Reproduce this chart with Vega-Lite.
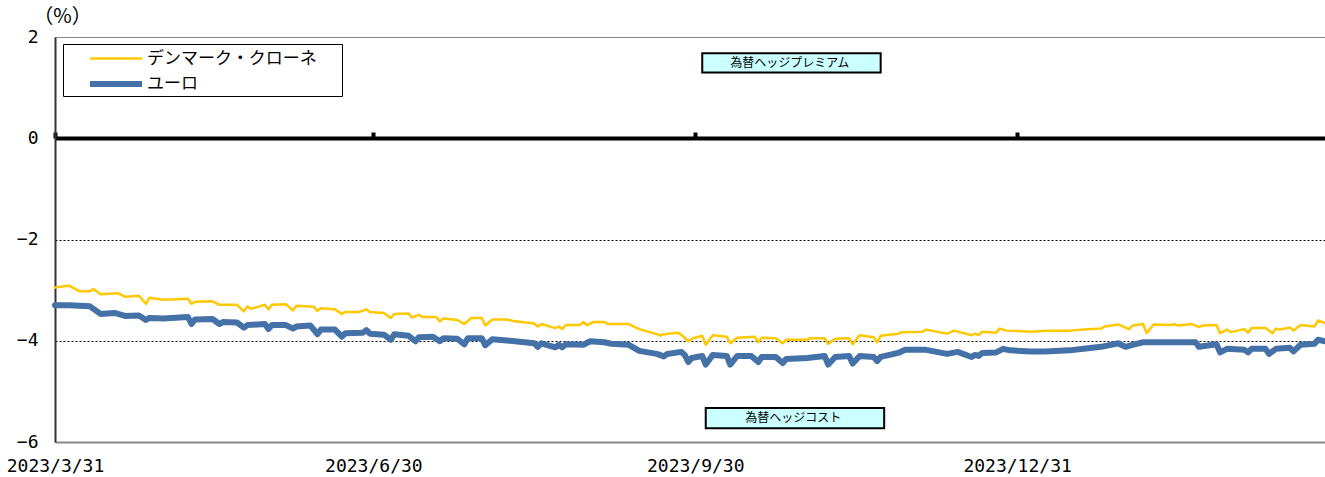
{
  "$schema": "https://vega.github.io/schema/vega-lite/v6.json",
  "width": 1270,
  "height": 405,
  "autosize": {"type": "none"},
  "padding": {"left": 55, "top": 37, "right": 0, "bottom": 35},
  "background": "white",
  "config": {
    "font": "Noto Sans CJK JP",
    "view": {"stroke": "#888888", "strokeWidth": 1}
  },
  "datasets": {
    "notes": [
      {"label": "為替ヘッジプレミアム", "start": "2023-10-02", "end": "2023-11-22", "mid": "2023-10-27", "top": 1.68, "bottom": 1.30, "center": 1.49},
      {"label": "為替ヘッジコスト", "start": "2023-10-03", "end": "2023-11-23", "mid": "2023-10-28", "top": -5.33, "bottom": -5.73, "center": -5.53}
    ],
    "series": [
      {"date": "2023-03-31", "currency": "デンマーク・クローネ", "value": -2.95},
      {"date": "2023-04-04", "currency": "デンマーク・クローネ", "value": -2.91},
      {"date": "2023-04-07", "currency": "デンマーク・クローネ", "value": -3.02},
      {"date": "2023-04-10", "currency": "デンマーク・クローネ", "value": -3.02},
      {"date": "2023-04-11", "currency": "デンマーク・クローネ", "value": -2.98},
      {"date": "2023-04-13", "currency": "デンマーク・クローネ", "value": -3.08},
      {"date": "2023-04-18", "currency": "デンマーク・クローネ", "value": -3.06},
      {"date": "2023-04-20", "currency": "デンマーク・クローネ", "value": -3.13},
      {"date": "2023-04-24", "currency": "デンマーク・クローネ", "value": -3.11},
      {"date": "2023-04-26", "currency": "デンマーク・クローネ", "value": -3.27},
      {"date": "2023-04-27", "currency": "デンマーク・クローネ", "value": -3.15},
      {"date": "2023-05-01", "currency": "デンマーク・クローネ", "value": -3.19},
      {"date": "2023-05-08", "currency": "デンマーク・クローネ", "value": -3.17},
      {"date": "2023-05-09", "currency": "デンマーク・クローネ", "value": -3.27},
      {"date": "2023-05-10", "currency": "デンマーク・クローネ", "value": -3.23},
      {"date": "2023-05-15", "currency": "デンマーク・クローネ", "value": -3.22},
      {"date": "2023-05-17", "currency": "デンマーク・クローネ", "value": -3.29},
      {"date": "2023-05-22", "currency": "デンマーク・クローネ", "value": -3.29},
      {"date": "2023-05-24", "currency": "デンマーク・クローネ", "value": -3.42},
      {"date": "2023-05-25", "currency": "デンマーク・クローネ", "value": -3.32},
      {"date": "2023-05-26", "currency": "デンマーク・クローネ", "value": -3.37},
      {"date": "2023-05-30", "currency": "デンマーク・クローネ", "value": -3.29},
      {"date": "2023-05-31", "currency": "デンマーク・クローネ", "value": -3.38},
      {"date": "2023-06-01", "currency": "デンマーク・クローネ", "value": -3.29},
      {"date": "2023-06-05", "currency": "デンマーク・クローネ", "value": -3.28},
      {"date": "2023-06-07", "currency": "デンマーク・クローネ", "value": -3.40},
      {"date": "2023-06-08", "currency": "デンマーク・クローネ", "value": -3.31},
      {"date": "2023-06-13", "currency": "デンマーク・クローネ", "value": -3.33},
      {"date": "2023-06-14", "currency": "デンマーク・クローネ", "value": -3.41},
      {"date": "2023-06-15", "currency": "デンマーク・クローネ", "value": -3.36},
      {"date": "2023-06-19", "currency": "デンマーク・クローネ", "value": -3.38},
      {"date": "2023-06-21", "currency": "デンマーク・クローネ", "value": -3.47},
      {"date": "2023-06-22", "currency": "デンマーク・クローネ", "value": -3.43},
      {"date": "2023-06-26", "currency": "デンマーク・クローネ", "value": -3.43},
      {"date": "2023-06-28", "currency": "デンマーク・クローネ", "value": -3.38},
      {"date": "2023-06-29", "currency": "デンマーク・クローネ", "value": -3.43},
      {"date": "2023-07-03", "currency": "デンマーク・クローネ", "value": -3.45},
      {"date": "2023-07-05", "currency": "デンマーク・クローネ", "value": -3.55},
      {"date": "2023-07-06", "currency": "デンマーク・クローネ", "value": -3.47},
      {"date": "2023-07-10", "currency": "デンマーク・クローネ", "value": -3.46},
      {"date": "2023-07-11", "currency": "デンマーク・クローネ", "value": -3.54},
      {"date": "2023-07-13", "currency": "デンマーク・クローネ", "value": -3.49},
      {"date": "2023-07-14", "currency": "デンマーク・クローネ", "value": -3.53},
      {"date": "2023-07-18", "currency": "デンマーク・クローネ", "value": -3.53},
      {"date": "2023-07-19", "currency": "デンマーク・クローネ", "value": -3.62},
      {"date": "2023-07-20", "currency": "デンマーク・クローネ", "value": -3.56},
      {"date": "2023-07-24", "currency": "デンマーク・クローネ", "value": -3.59},
      {"date": "2023-07-26", "currency": "デンマーク・クローネ", "value": -3.67},
      {"date": "2023-07-28", "currency": "デンマーク・クローネ", "value": -3.55},
      {"date": "2023-07-31", "currency": "デンマーク・クローネ", "value": -3.55},
      {"date": "2023-08-01", "currency": "デンマーク・クローネ", "value": -3.70},
      {"date": "2023-08-03", "currency": "デンマーク・クローネ", "value": -3.58},
      {"date": "2023-08-07", "currency": "デンマーク・クローネ", "value": -3.58},
      {"date": "2023-08-09", "currency": "デンマーク・クローネ", "value": -3.61},
      {"date": "2023-08-15", "currency": "デンマーク・クローネ", "value": -3.66},
      {"date": "2023-08-16", "currency": "デンマーク・クローネ", "value": -3.72},
      {"date": "2023-08-17", "currency": "デンマーク・クローネ", "value": -3.67},
      {"date": "2023-08-21", "currency": "デンマーク・クローネ", "value": -3.75},
      {"date": "2023-08-22", "currency": "デンマーク・クローネ", "value": -3.72},
      {"date": "2023-08-23", "currency": "デンマーク・クローネ", "value": -3.77},
      {"date": "2023-08-24", "currency": "デンマーク・クローネ", "value": -3.69},
      {"date": "2023-08-28", "currency": "デンマーク・クローネ", "value": -3.69},
      {"date": "2023-08-29", "currency": "デンマーク・クローネ", "value": -3.63},
      {"date": "2023-08-30", "currency": "デンマーク・クローネ", "value": -3.69},
      {"date": "2023-09-01", "currency": "デンマーク・クローネ", "value": -3.63},
      {"date": "2023-09-04", "currency": "デンマーク・クローネ", "value": -3.63},
      {"date": "2023-09-05", "currency": "デンマーク・クローネ", "value": -3.67},
      {"date": "2023-09-11", "currency": "デンマーク・クローネ", "value": -3.67},
      {"date": "2023-09-14", "currency": "デンマーク・クローネ", "value": -3.77},
      {"date": "2023-09-19", "currency": "デンマーク・クローネ", "value": -3.87},
      {"date": "2023-09-20", "currency": "デンマーク・クローネ", "value": -3.90},
      {"date": "2023-09-21", "currency": "デンマーク・クローネ", "value": -3.87},
      {"date": "2023-09-25", "currency": "デンマーク・クローネ", "value": -3.84},
      {"date": "2023-09-26", "currency": "デンマーク・クローネ", "value": -3.88},
      {"date": "2023-09-28", "currency": "デンマーク・クローネ", "value": -4.01},
      {"date": "2023-09-29", "currency": "デンマーク・クローネ", "value": -3.96},
      {"date": "2023-10-02", "currency": "デンマーク・クローネ", "value": -3.90},
      {"date": "2023-10-03", "currency": "デンマーク・クローネ", "value": -4.08},
      {"date": "2023-10-05", "currency": "デンマーク・クローネ", "value": -3.89},
      {"date": "2023-10-09", "currency": "デンマーク・クローネ", "value": -3.92},
      {"date": "2023-10-10", "currency": "デンマーク・クローネ", "value": -4.05},
      {"date": "2023-10-12", "currency": "デンマーク・クローネ", "value": -3.94},
      {"date": "2023-10-17", "currency": "デンマーク・クローネ", "value": -3.92},
      {"date": "2023-10-18", "currency": "デンマーク・クローネ", "value": -4.03},
      {"date": "2023-10-19", "currency": "デンマーク・クローネ", "value": -3.94},
      {"date": "2023-10-23", "currency": "デンマーク・クローネ", "value": -3.95},
      {"date": "2023-10-25", "currency": "デンマーク・クローネ", "value": -4.05},
      {"date": "2023-10-26", "currency": "デンマーク・クローネ", "value": -3.98},
      {"date": "2023-11-01", "currency": "デンマーク・クローネ", "value": -3.98},
      {"date": "2023-11-02", "currency": "デンマーク・クローネ", "value": -3.95},
      {"date": "2023-11-06", "currency": "デンマーク・クローネ", "value": -3.95},
      {"date": "2023-11-07", "currency": "デンマーク・クローネ", "value": -4.06},
      {"date": "2023-11-09", "currency": "デンマーク・クローネ", "value": -3.96},
      {"date": "2023-11-13", "currency": "デンマーク・クローネ", "value": -3.95},
      {"date": "2023-11-14", "currency": "デンマーク・クローネ", "value": -4.07},
      {"date": "2023-11-16", "currency": "デンマーク・クローネ", "value": -3.89},
      {"date": "2023-11-20", "currency": "デンマーク・クローネ", "value": -3.93},
      {"date": "2023-11-21", "currency": "デンマーク・クローネ", "value": -4.03},
      {"date": "2023-11-22", "currency": "デンマーク・クローネ", "value": -3.90},
      {"date": "2023-11-27", "currency": "デンマーク・クローネ", "value": -3.86},
      {"date": "2023-11-28", "currency": "デンマーク・クローネ", "value": -3.83},
      {"date": "2023-12-04", "currency": "デンマーク・クローネ", "value": -3.82},
      {"date": "2023-12-05", "currency": "デンマーク・クローネ", "value": -3.78},
      {"date": "2023-12-11", "currency": "デンマーク・クローネ", "value": -3.86},
      {"date": "2023-12-13", "currency": "デンマーク・クローネ", "value": -3.80},
      {"date": "2023-12-18", "currency": "デンマーク・クローネ", "value": -3.89},
      {"date": "2023-12-19", "currency": "デンマーク・クローネ", "value": -3.86},
      {"date": "2023-12-20", "currency": "デンマーク・クローネ", "value": -3.89},
      {"date": "2023-12-21", "currency": "デンマーク・クローネ", "value": -3.82},
      {"date": "2023-12-25", "currency": "デンマーク・クローネ", "value": -3.84},
      {"date": "2023-12-26", "currency": "デンマーク・クローネ", "value": -3.76},
      {"date": "2023-12-28", "currency": "デンマーク・クローネ", "value": -3.80},
      {"date": "2024-01-04", "currency": "デンマーク・クローネ", "value": -3.82},
      {"date": "2024-01-09", "currency": "デンマーク・クローネ", "value": -3.80},
      {"date": "2024-01-15", "currency": "デンマーク・クローネ", "value": -3.80},
      {"date": "2024-01-19", "currency": "デンマーク・クローネ", "value": -3.78},
      {"date": "2024-01-24", "currency": "デンマーク・クローネ", "value": -3.76},
      {"date": "2024-01-25", "currency": "デンマーク・クローネ", "value": -3.72},
      {"date": "2024-01-29", "currency": "デンマーク・クローネ", "value": -3.68},
      {"date": "2024-02-01", "currency": "デンマーク・クローネ", "value": -3.77},
      {"date": "2024-02-02", "currency": "デンマーク・クローネ", "value": -3.70},
      {"date": "2024-02-05", "currency": "デンマーク・クローネ", "value": -3.67},
      {"date": "2024-02-06", "currency": "デンマーク・クローネ", "value": -3.85},
      {"date": "2024-02-08", "currency": "デンマーク・クローネ", "value": -3.68},
      {"date": "2024-02-13", "currency": "デンマーク・クローネ", "value": -3.69},
      {"date": "2024-02-14", "currency": "デンマーク・クローネ", "value": -3.67},
      {"date": "2024-02-15", "currency": "デンマーク・クローネ", "value": -3.70},
      {"date": "2024-02-19", "currency": "デンマーク・クローネ", "value": -3.67},
      {"date": "2024-02-21", "currency": "デンマーク・クローネ", "value": -3.73},
      {"date": "2024-02-22", "currency": "デンマーク・クローネ", "value": -3.70},
      {"date": "2024-02-26", "currency": "デンマーク・クローネ", "value": -3.69},
      {"date": "2024-02-27", "currency": "デンマーク・クローネ", "value": -3.85},
      {"date": "2024-02-29", "currency": "デンマーク・クローネ", "value": -3.78},
      {"date": "2024-03-01", "currency": "デンマーク・クローネ", "value": -3.83},
      {"date": "2024-03-05", "currency": "デンマーク・クローネ", "value": -3.77},
      {"date": "2024-03-06", "currency": "デンマーク・クローネ", "value": -3.84},
      {"date": "2024-03-07", "currency": "デンマーク・クローネ", "value": -3.75},
      {"date": "2024-03-11", "currency": "デンマーク・クローネ", "value": -3.75},
      {"date": "2024-03-13", "currency": "デンマーク・クローネ", "value": -3.85},
      {"date": "2024-03-14", "currency": "デンマーク・クローネ", "value": -3.76},
      {"date": "2024-03-15", "currency": "デンマーク・クローネ", "value": -3.78},
      {"date": "2024-03-18", "currency": "デンマーク・クローネ", "value": -3.74},
      {"date": "2024-03-19", "currency": "デンマーク・クローネ", "value": -3.80},
      {"date": "2024-03-21", "currency": "デンマーク・クローネ", "value": -3.69},
      {"date": "2024-03-25", "currency": "デンマーク・クローネ", "value": -3.72},
      {"date": "2024-03-26", "currency": "デンマーク・クローネ", "value": -3.60},
      {"date": "2024-03-28", "currency": "デンマーク・クローネ", "value": -3.65},
      {"date": "2023-03-31", "currency": "ユーロ", "value": -3.30},
      {"date": "2023-04-04", "currency": "ユーロ", "value": -3.30},
      {"date": "2023-04-10", "currency": "ユーロ", "value": -3.32},
      {"date": "2023-04-13", "currency": "ユーロ", "value": -3.47},
      {"date": "2023-04-17", "currency": "ユーロ", "value": -3.45},
      {"date": "2023-04-20", "currency": "ユーロ", "value": -3.51},
      {"date": "2023-04-24", "currency": "ユーロ", "value": -3.50},
      {"date": "2023-04-26", "currency": "ユーロ", "value": -3.59},
      {"date": "2023-04-27", "currency": "ユーロ", "value": -3.55},
      {"date": "2023-05-01", "currency": "ユーロ", "value": -3.56},
      {"date": "2023-05-08", "currency": "ユーロ", "value": -3.53},
      {"date": "2023-05-09", "currency": "ユーロ", "value": -3.67},
      {"date": "2023-05-10", "currency": "ユーロ", "value": -3.58},
      {"date": "2023-05-15", "currency": "ユーロ", "value": -3.57},
      {"date": "2023-05-17", "currency": "ユーロ", "value": -3.67},
      {"date": "2023-05-18", "currency": "ユーロ", "value": -3.63},
      {"date": "2023-05-22", "currency": "ユーロ", "value": -3.64},
      {"date": "2023-05-24", "currency": "ユーロ", "value": -3.74},
      {"date": "2023-05-25", "currency": "ユーロ", "value": -3.69},
      {"date": "2023-05-30", "currency": "ユーロ", "value": -3.67},
      {"date": "2023-05-31", "currency": "ユーロ", "value": -3.77},
      {"date": "2023-06-01", "currency": "ユーロ", "value": -3.69},
      {"date": "2023-06-05", "currency": "ユーロ", "value": -3.69},
      {"date": "2023-06-07", "currency": "ユーロ", "value": -3.76},
      {"date": "2023-06-08", "currency": "ユーロ", "value": -3.72},
      {"date": "2023-06-12", "currency": "ユーロ", "value": -3.70},
      {"date": "2023-06-14", "currency": "ユーロ", "value": -3.87},
      {"date": "2023-06-15", "currency": "ユーロ", "value": -3.78},
      {"date": "2023-06-19", "currency": "ユーロ", "value": -3.78},
      {"date": "2023-06-21", "currency": "ユーロ", "value": -3.92},
      {"date": "2023-06-22", "currency": "ユーロ", "value": -3.85},
      {"date": "2023-06-27", "currency": "ユーロ", "value": -3.84},
      {"date": "2023-06-28", "currency": "ユーロ", "value": -3.79},
      {"date": "2023-06-29", "currency": "ユーロ", "value": -3.86},
      {"date": "2023-07-03", "currency": "ユーロ", "value": -3.88},
      {"date": "2023-07-05", "currency": "ユーロ", "value": -3.98},
      {"date": "2023-07-06", "currency": "ユーロ", "value": -3.87},
      {"date": "2023-07-10", "currency": "ユーロ", "value": -3.90},
      {"date": "2023-07-12", "currency": "ユーロ", "value": -4.01},
      {"date": "2023-07-13", "currency": "ユーロ", "value": -3.93},
      {"date": "2023-07-17", "currency": "ユーロ", "value": -3.92},
      {"date": "2023-07-19", "currency": "ユーロ", "value": -4.01},
      {"date": "2023-07-20", "currency": "ユーロ", "value": -3.95},
      {"date": "2023-07-24", "currency": "ユーロ", "value": -3.96},
      {"date": "2023-07-26", "currency": "ユーロ", "value": -4.07},
      {"date": "2023-07-27", "currency": "ユーロ", "value": -3.95},
      {"date": "2023-07-31", "currency": "ユーロ", "value": -3.95},
      {"date": "2023-08-01", "currency": "ユーロ", "value": -4.09},
      {"date": "2023-08-03", "currency": "ユーロ", "value": -3.97},
      {"date": "2023-08-08", "currency": "ユーロ", "value": -4.00},
      {"date": "2023-08-15", "currency": "ユーロ", "value": -4.05},
      {"date": "2023-08-16", "currency": "ユーロ", "value": -4.12},
      {"date": "2023-08-17", "currency": "ユーロ", "value": -4.05},
      {"date": "2023-08-21", "currency": "ユーロ", "value": -4.13},
      {"date": "2023-08-22", "currency": "ユーロ", "value": -4.08},
      {"date": "2023-08-23", "currency": "ユーロ", "value": -4.13},
      {"date": "2023-08-24", "currency": "ユーロ", "value": -4.07},
      {"date": "2023-08-29", "currency": "ユーロ", "value": -4.08},
      {"date": "2023-08-31", "currency": "ユーロ", "value": -4.01},
      {"date": "2023-09-04", "currency": "ユーロ", "value": -4.03},
      {"date": "2023-09-06", "currency": "ユーロ", "value": -4.06},
      {"date": "2023-09-11", "currency": "ユーロ", "value": -4.08},
      {"date": "2023-09-14", "currency": "ユーロ", "value": -4.20},
      {"date": "2023-09-19", "currency": "ユーロ", "value": -4.26},
      {"date": "2023-09-21", "currency": "ユーロ", "value": -4.31},
      {"date": "2023-09-22", "currency": "ユーロ", "value": -4.26},
      {"date": "2023-09-26", "currency": "ユーロ", "value": -4.22},
      {"date": "2023-09-27", "currency": "ユーロ", "value": -4.28},
      {"date": "2023-09-28", "currency": "ユーロ", "value": -4.42},
      {"date": "2023-09-29", "currency": "ユーロ", "value": -4.34},
      {"date": "2023-10-02", "currency": "ユーロ", "value": -4.30},
      {"date": "2023-10-03", "currency": "ユーロ", "value": -4.47},
      {"date": "2023-10-05", "currency": "ユーロ", "value": -4.28},
      {"date": "2023-10-09", "currency": "ユーロ", "value": -4.30},
      {"date": "2023-10-10", "currency": "ユーロ", "value": -4.47},
      {"date": "2023-10-12", "currency": "ユーロ", "value": -4.30},
      {"date": "2023-10-16", "currency": "ユーロ", "value": -4.30},
      {"date": "2023-10-18", "currency": "ユーロ", "value": -4.42},
      {"date": "2023-10-19", "currency": "ユーロ", "value": -4.32},
      {"date": "2023-10-23", "currency": "ユーロ", "value": -4.32},
      {"date": "2023-10-25", "currency": "ユーロ", "value": -4.44},
      {"date": "2023-10-26", "currency": "ユーロ", "value": -4.36},
      {"date": "2023-11-01", "currency": "ユーロ", "value": -4.34},
      {"date": "2023-11-06", "currency": "ユーロ", "value": -4.30},
      {"date": "2023-11-07", "currency": "ユーロ", "value": -4.47},
      {"date": "2023-11-09", "currency": "ユーロ", "value": -4.32},
      {"date": "2023-11-13", "currency": "ユーロ", "value": -4.30},
      {"date": "2023-11-14", "currency": "ユーロ", "value": -4.45},
      {"date": "2023-11-16", "currency": "ユーロ", "value": -4.30},
      {"date": "2023-11-20", "currency": "ユーロ", "value": -4.32},
      {"date": "2023-11-21", "currency": "ユーロ", "value": -4.40},
      {"date": "2023-11-22", "currency": "ユーロ", "value": -4.32},
      {"date": "2023-11-27", "currency": "ユーロ", "value": -4.24},
      {"date": "2023-11-29", "currency": "ユーロ", "value": -4.18},
      {"date": "2023-12-05", "currency": "ユーロ", "value": -4.18},
      {"date": "2023-12-11", "currency": "ユーロ", "value": -4.26},
      {"date": "2023-12-14", "currency": "ユーロ", "value": -4.22},
      {"date": "2023-12-18", "currency": "ユーロ", "value": -4.32},
      {"date": "2023-12-19", "currency": "ユーロ", "value": -4.28},
      {"date": "2023-12-20", "currency": "ユーロ", "value": -4.30},
      {"date": "2023-12-21", "currency": "ユーロ", "value": -4.24},
      {"date": "2023-12-25", "currency": "ユーロ", "value": -4.23},
      {"date": "2023-12-27", "currency": "ユーロ", "value": -4.16},
      {"date": "2023-12-29", "currency": "ユーロ", "value": -4.19},
      {"date": "2024-01-04", "currency": "ユーロ", "value": -4.21},
      {"date": "2024-01-08", "currency": "ユーロ", "value": -4.21},
      {"date": "2024-01-15", "currency": "ユーロ", "value": -4.19},
      {"date": "2024-01-19", "currency": "ユーロ", "value": -4.16},
      {"date": "2024-01-24", "currency": "ユーロ", "value": -4.12},
      {"date": "2024-01-29", "currency": "ユーロ", "value": -4.05},
      {"date": "2024-01-30", "currency": "ユーロ", "value": -4.09},
      {"date": "2024-01-31", "currency": "ユーロ", "value": -4.12},
      {"date": "2024-02-02", "currency": "ユーロ", "value": -4.08},
      {"date": "2024-02-05", "currency": "ユーロ", "value": -4.03},
      {"date": "2024-02-12", "currency": "ユーロ", "value": -4.03},
      {"date": "2024-02-20", "currency": "ユーロ", "value": -4.03},
      {"date": "2024-02-21", "currency": "ユーロ", "value": -4.12},
      {"date": "2024-02-23", "currency": "ユーロ", "value": -4.10},
      {"date": "2024-02-26", "currency": "ユーロ", "value": -4.07},
      {"date": "2024-02-27", "currency": "ユーロ", "value": -4.23},
      {"date": "2024-02-29", "currency": "ユーロ", "value": -4.16},
      {"date": "2024-03-05", "currency": "ユーロ", "value": -4.18},
      {"date": "2024-03-06", "currency": "ユーロ", "value": -4.23},
      {"date": "2024-03-07", "currency": "ユーロ", "value": -4.16},
      {"date": "2024-03-11", "currency": "ユーロ", "value": -4.16},
      {"date": "2024-03-12", "currency": "ユーロ", "value": -4.26},
      {"date": "2024-03-14", "currency": "ユーロ", "value": -4.16},
      {"date": "2024-03-18", "currency": "ユーロ", "value": -4.14},
      {"date": "2024-03-19", "currency": "ユーロ", "value": -4.21},
      {"date": "2024-03-21", "currency": "ユーロ", "value": -4.08},
      {"date": "2024-03-25", "currency": "ユーロ", "value": -4.06},
      {"date": "2024-03-26", "currency": "ユーロ", "value": -3.98},
      {"date": "2024-03-28", "currency": "ユーロ", "value": -4.01}
    ]
  },
  "layer": [
    {
      "data": {"name": "notes"},
      "mark": {"type": "rect", "fill": "#CCFFFF", "stroke": "black", "strokeWidth": 2},
      "encoding": {
        "x": {
          "field": "start", "type": "temporal",
          "scale": {"type": "utc", "domain": [{"year": 2023, "month": 3, "date": 31, "utc": true}, {"year": 2024, "month": 3, "date": 28, "utc": true}], "nice": false},
          "axis": {
            "orient": "bottom",
            "values": [{"year": 2023, "month": 3, "date": 31, "utc": true}, {"year": 2023, "month": 6, "date": 30, "utc": true}, {"year": 2023, "month": 9, "date": 30, "utc": true}, {"year": 2023, "month": 12, "date": 31, "utc": true}],
            "labelExpr": "utcFormat(datum.value, '%Y/%-m/%-d')",
            "title": null,
            "grid": false,
            "ticks": false,
            "domainColor": "#888888",
            "domainWidth": 2,
            "labelFont": "DejaVu Sans Mono",
            "labelFontSize": 18,
            "labelColor": "black",
            "labelPadding": 15,
            "labelFlush": false,
            "labelOverlap": false,
            "labelAlign": "center"
          }
        },
        "x2": {"field": "end"},
        "y": {
          "field": "top", "type": "quantitative",
          "scale": {"domain": [-6, 2], "nice": false, "zero": false},
          "axis": {
            "values": [-6, -4, -2, 0, 2],
            "title": "（%）",
            "titleFont": "Noto Sans CJK JP",
            "titleAngle": 0,
            "titleFontSize": 20,
            "titleFontWeight": "normal",
            "titleColor": "black",
            "titleAlign": "center",
            "titleBaseline": "middle",
            "titleX": 7,
            "titleY": -21,
            "ticks": false,
            "domainColor": "#333333",
            "domainWidth": 2,
            "labelFont": "DejaVu Sans Mono",
            "labelFontSize": 18,
            "labelColor": "black",
            "labelPadding": 17,
            "grid": true,
            "gridColor": "black",
            "gridDash": [2, 2],
            "gridWidth": 1,
            "gridOpacity": {"condition": {"test": "datum.value == -2 || datum.value == -4", "value": 1}, "value": 0}
          }
        },
        "y2": {"field": "bottom"}
      }
    },
    {
      "data": {"name": "notes"},
      "mark": {"type": "text", "fontSize": 12, "color": "black", "align": "center", "baseline": "middle"},
      "encoding": {
        "x": {"field": "mid", "type": "temporal", "axis": null},
        "y": {"field": "center", "type": "quantitative"},
        "text": {"field": "label"}
      }
    },
    {
      "data": {"name": "series"},
      "mark": {"type": "line", "strokeJoin": "round", "strokeCap": "round"},
      "encoding": {
        "x": {
          "field": "date", "type": "temporal",
          "axis": {
            "orient": "top",
            "offset": -101,
            "values": [{"year": 2023, "month": 3, "date": 31, "utc": true}, {"year": 2023, "month": 6, "date": 30, "utc": true}, {"year": 2023, "month": 9, "date": 30, "utc": true}, {"year": 2023, "month": 12, "date": 31, "utc": true}],
            "labels": false,
            "title": null,
            "grid": false,
            "ticks": true,
            "tickColor": "black",
            "tickWidth": 4,
            "tickSize": 6,
            "domainColor": "black",
            "domainWidth": 4
          }
        },
        "y": {"field": "value", "type": "quantitative"},
        "color": {
          "field": "currency", "type": "nominal",
          "scale": {"domain": ["デンマーク・クローネ", "ユーロ"], "range": ["#FFC800", "#4472A8"]},
          "legend": {
            "title": "\u3000",
            "titleOrient": "right",
            "titleFontSize": 17,
            "titlePadding": 25,
            "orient": "none",
            "legendX": 8,
            "legendY": 7,
            "strokeColor": "black",
            "fillColor": "white",
            "padding": 0,
            "symbolOffset": 37,
            "symbolType": "M-2,0H2",
            "symbolSize": 676,
            "labelFontSize": 17,
            "labelColor": "black",
            "labelOffset": 15,
            "rowPadding": 1,
            "labelLimit": 400
          }
        },
        "strokeWidth": {
          "field": "currency", "type": "nominal",
          "scale": {"domain": ["デンマーク・クローネ", "ユーロ"], "range": [2.5, 6]},
          "legend": {
            "title": "\u3000",
            "titleOrient": "right",
            "titleFontSize": 17,
            "titlePadding": 25,
            "orient": "none",
            "legendX": 8,
            "legendY": 7,
            "strokeColor": "black",
            "fillColor": "white",
            "padding": 0,
            "symbolOffset": 37,
            "symbolType": "M-2,0H2",
            "symbolSize": 676,
            "labelFontSize": 17,
            "labelColor": "black",
            "labelOffset": 15,
            "rowPadding": 1,
            "labelLimit": 400
          }
        }
      }
    }
  ],
  "resolve": {"axis": {"x": "independent"}}
}
